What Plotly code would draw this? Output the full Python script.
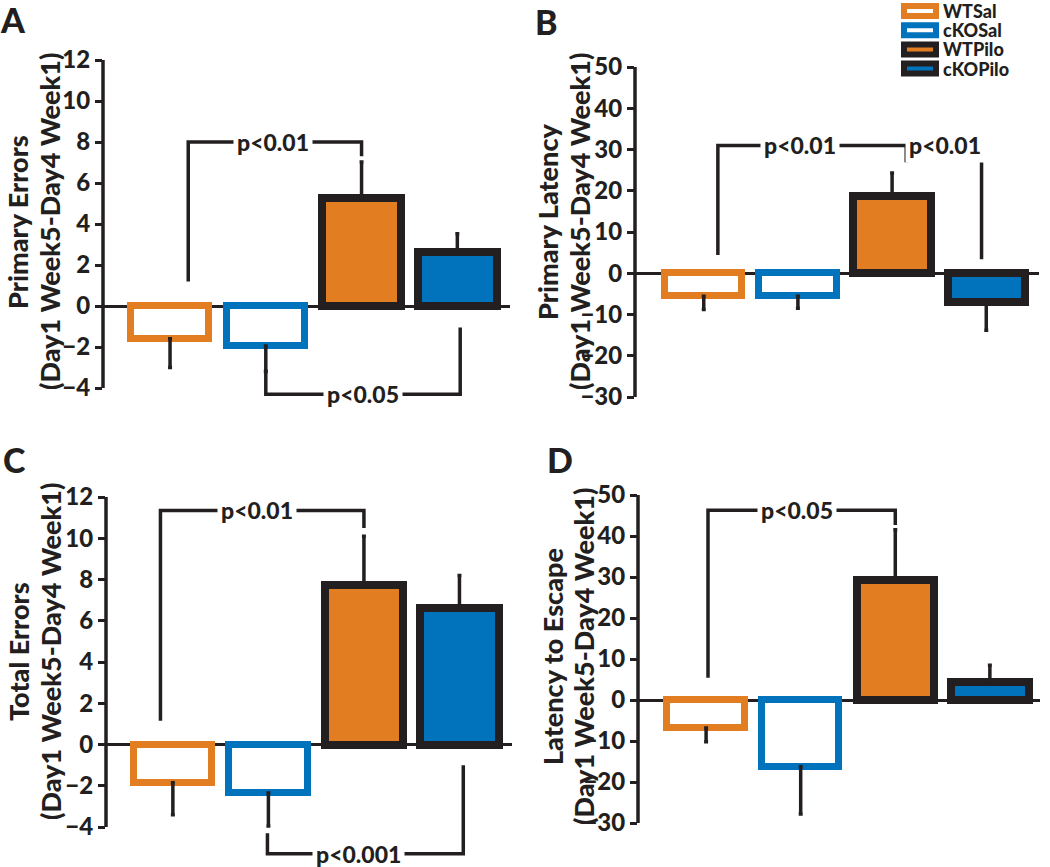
import plotly.graph_objects as go

W, H = 1050, 867

# groups and measured values (mean, sem) for each panel
groups = ["WTSal", "cKOSal", "WTPilo", "cKOPilo"]

primary_errors = [-1.6, -1.95, 5.27, 2.63]
primary_errors_sem = [1.4, 1.25, 1.75, 0.9]

primary_latency = [-5.6, -5.6, 18.7, -6.9]
primary_latency_sem = [3.2, 2.9, 5.6, 6.9]

total_errors = [-1.85, -2.35, 7.75, 6.6]
total_errors_sem = [1.55, 1.6, 2.35, 1.6]

escape_latency = [-6.8, -16.3, 29.3, 4.4]
escape_latency_sem = [3.4, 11.5, 12.2, 4.1]

errors_ticks = [-4, -2, 0, 2, 4, 6, 8, 10, 12]
latency_ticks = [-30, -20, -10, 0, 10, 20, 30, 40, 50]

ORANGE = "#E27D22"
BLUE = "#0073BC"
BLACK = "#231F20"
fill_colors = ["white", "white", ORANGE, BLUE]
line_colors = [ORANGE, BLUE, BLACK, BLACK]
line_widths = [7, 7, 8, 8]

FONT = "Lato"
WEIGHT = 900

# panel layout in pixels: x px span, y px of top/bottom of range
panels = [
    dict(letter="A", letter_xy=(13, 20), vals=primary_errors, sem=primary_errors_sem,
         ticks=errors_ticks, xpx=(103, 510), ypx=(60, 400.3), yrange=(-4.6, 12), xrange=(-0.70, 3.55),
         title=("Primary Errors", "(Day1 Week5-Day4 Week1)"), title_x=(18, 50), title_y=222,
         brackets=[
             dict(path=[(0.19, 1.2), (0.19, 8.0), (2.0, 8.0), (2.0, 7.3)], text=[(1.08, 8.0, "p<0.01")]),
             dict(path=[(1.0, -3.1), (1.0, -4.3), (3.03, -4.3), (3.03, -1.05)], text=[(2.02, -4.3, "p<0.05")]),
         ]),
    dict(letter="B", letter_xy=(546, 22), vals=primary_latency, sem=primary_latency_sem,
         ticks=latency_ticks, xpx=(635, 1039), ypx=(67, 397), yrange=(-30, 50), xrange=(-0.73, 3.56),
         title=("Primary Latency", "(Day1 Week5-Day4 Week1)"), title_x=(548, 580), title_y=222,
         brackets=[
             dict(path=[(0.15, 4.4), (0.15, 31.0), (2.95, 31.0), (2.95, 3.4)],
                  text=[(1.02, 31.0, "p<0.01"), (2.56, 31.0, "p<0.01")]),
             dict(path=[(2.15, 31.0), (2.15, 26.9)], text=[]),
         ]),
    dict(letter="C", letter_xy=(14, 459), vals=total_errors, sem=total_errors_sem,
         ticks=errors_ticks, xpx=(106, 512), ypx=(497, 860), yrange=(-5.6, 12), xrange=(-0.70, 3.55),
         title=("Total Errors", "(Day1 Week5-Day4 Week1)"), title_x=(18, 50), title_y=652,
         brackets=[
             dict(path=[(-0.13, 1.15), (-0.13, 11.35), (2.0, 11.35), (2.0, 10.5)], text=[(0.88, 11.35, "p<0.01")]),
             dict(path=[(0.99, -4.3), (0.99, -5.3), (3.04, -5.3), (3.04, -1.0)], text=[(1.94, -5.3, "p<0.001")]),
         ]),
    dict(letter="D", letter_xy=(560, 459), vals=escape_latency, sem=escape_latency_sem,
         ticks=latency_ticks, xpx=(638, 1040), ypx=(495, 823), yrange=(-30, 50), xrange=(-0.72, 3.53),
         title=("Latency to Escape", "(Day1 Week5-Day4 Week1)"), title_x=(552, 583), title_y=657,
         brackets=[
             dict(path=[(0.02, 5.4), (0.02, 46.3), (2.0, 46.3), (2.0, 42.7)], text=[(0.96, 46.3, "p<0.05")]),
         ]),
]


def px(x):
    return x / W


def py(y):
    return 1 - y / H


def font(size):
    return dict(family=FONT, size=size, color=BLACK, weight=WEIGHT)


fig = go.Figure()
shapes = []
annotations = []

for i, p in enumerate(panels):
    n = "" if i == 0 else str(i + 1)
    xa, ya = "x" + n, "y" + n
    vals, sem = p["vals"], p["sem"]
    up = [s if v >= 0 else 0 for v, s in zip(vals, sem)]
    down = [s if v < 0 else 0 for v, s in zip(vals, sem)]
    fig.add_trace(go.Bar(
        x=groups, y=vals, xaxis=xa, yaxis=ya, width=0.82,
        marker=dict(color=fill_colors, line=dict(color=line_colors, width=line_widths)),
        error_y=dict(type="data", symmetric=False, array=up, arrayminus=down,
                     color=BLACK, thickness=3.5, width=2),
        showlegend=False, hoverinfo="skip",
    ))

    xdom = [px(p["xpx"][0]), px(p["xpx"][1])]
    ydom = [py(p["ypx"][1]), py(p["ypx"][0])]
    fig.layout["xaxis" + n] = dict(domain=xdom, range=list(p["xrange"]), anchor=ya,
                                   visible=False, type="category", automargin=False)
    fig.layout["yaxis" + n] = dict(
        domain=ydom, range=list(p["yrange"]), anchor=xa, automargin=False,
        tickvals=p["ticks"], ticks="outside", ticklen=7, tickwidth=3, tickcolor=BLACK,
        tickfont=font(24),
        showgrid=False, showline=False, zeroline=True, zerolinecolor=BLACK, zerolinewidth=3,
    )

    # y axis line only over the tick range
    r0, r1 = p["yrange"]
    def to_py(v, p=p, r0=r0, r1=r1):
        return p["ypx"][1] - (v - r0) / (r1 - r0) * (p["ypx"][1] - p["ypx"][0])
    shapes.append(dict(type="line", xref="paper", yref="paper",
                       x0=px(p["xpx"][0]), x1=px(p["xpx"][0]),
                       y0=py(to_py(min(p["ticks"]))), y1=py(to_py(max(p["ticks"]))),
                       line=dict(color=BLACK, width=3.5)))

    # significance brackets
    for b in p["brackets"]:
        pts = b["path"]
        path = "M " + " L ".join(f"{x},{y}" for x, y in pts)
        shapes.append(dict(type="path", xref=xa, yref=ya, path=path,
                           line=dict(color=BLACK, width=3.5)))
        for tx, ty, label in b["text"]:
            annotations.append(dict(x=tx, y=ty, xref=xa, yref=ya, text=label, showarrow=False,
                                    bgcolor="white", borderpad=3, font=font(23)))

    # axis titles
    for t, tx in zip(p["title"], p["title_x"]):
        annotations.append(dict(x=px(tx), y=py(p["title_y"]), xref="paper", yref="paper",
                                text=t, showarrow=False, textangle=-90,
                                xanchor="center", yanchor="middle", font=font(27)))

    # panel letter
    lx, ly = p["letter_xy"]
    annotations.append(dict(x=px(lx), y=py(ly), xref="paper", yref="paper", text=p["letter"],
                            showarrow=False, xanchor="center", yanchor="middle", font=font(34)))

# legend drawn by hand at the top right
for k, g in enumerate(groups):
    top = 6 + k * 19.2
    shapes.append(dict(type="rect", xref="paper", yref="paper",
                       x0=px(904), x1=px(936), y0=py(top), y1=py(top + 10),
                       fillcolor=fill_colors[k], line=dict(color=line_colors[k], width=6)))
    annotations.append(dict(x=px(942), y=py(top + 5), xref="paper", yref="paper", text=g,
                            showarrow=False, xanchor="left", yanchor="middle",
                            borderpad=0, font=font(18)))

fig.update_layout(
    template="none",
    width=W, height=H, margin=dict(l=0, r=0, t=0, b=0, pad=0, autoexpand=False),
    plot_bgcolor="white", paper_bgcolor="white",
    shapes=shapes, annotations=annotations, bargap=0,
)

# the page body has a default margin; drop it so the figure sits at the window corner
fig.write_html("out.html", config={"displayModeBar": False},
               post_script="document.body.style.margin='0';")
